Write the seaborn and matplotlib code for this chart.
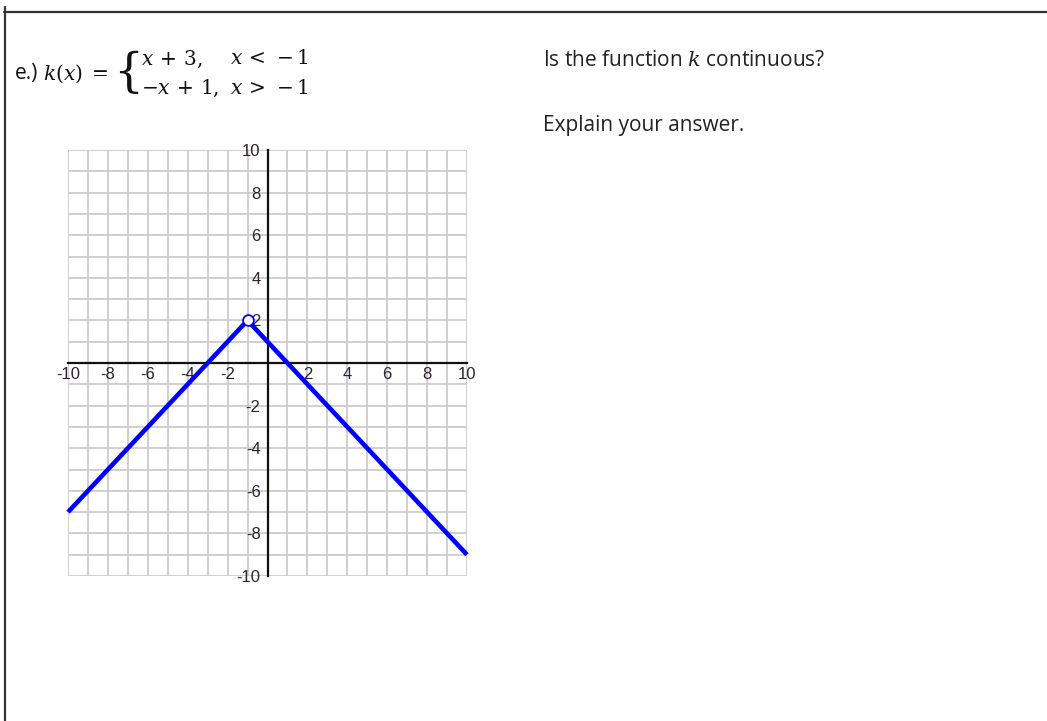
import numpy as np
import pandas as pd
import matplotlib
matplotlib.use("Agg")
import matplotlib.pyplot as plt
from matplotlib.ticker import MultipleLocator, FuncFormatter
from matplotlib.lines import Line2D
import seaborn as sns

# k(x) = x + 3 for x < -1, -x + 1 for x > -1
left_x = [-10, -1]
left_y = [-7, 2]
right_x = [-1, 10]
right_y = [2, -9]
hole_x = [-1]
hole_y = [2]

axis_min, axis_max = -10, 10
label_step = 2

W, H = 1047, 721
sns.set_theme(style="white")
plt.rcParams["font.family"] = ["Liberation Sans", "DejaVu Sans"]
plt.rcParams["mathtext.fontset"] = "dejavuserif"

fig = plt.figure(figsize=(W / 100, H / 100), dpi=100)
fig.patch.set_facecolor("white")


def fx(px):
    return px / W


def fy(py):
    return 1 - py / H


# page frame: top rule and left rule
fig.add_artist(Line2D([fx(4), fx(W)], [fy(11.5), fy(11.5)], color="#333333", lw=1.6))
fig.add_artist(Line2D([fx(4.5), fx(4.5)], [fy(7), fy(H)], color="#333333", lw=1.6))

# coordinate grid
ax = fig.add_axes([fx(68), fy(576), fx(467) - fx(68), fy(150) - fy(576)])
ax.set_facecolor("white")
ax.set_xlim(axis_min, axis_max)
ax.set_ylim(axis_min, axis_max)
ax.xaxis.set_major_locator(MultipleLocator(1))
ax.yaxis.set_major_locator(MultipleLocator(1))
ax.grid(True, color="#cccccc", lw=1.3, zorder=0)
for ln in ax.get_xgridlines() + ax.get_ygridlines():
    ln.set_clip_on(False)

for side in ("top", "right"):
    ax.spines[side].set_visible(False)
for side in ("left", "bottom"):
    ax.spines[side].set_position("zero")
    ax.spines[side].set_color("#111111")
    ax.spines[side].set_linewidth(1.6)
    ax.spines[side].set_zorder(2)


def even_label(v, pos):
    iv = int(round(v))
    if iv == 0 or iv % label_step != 0:
        return ""
    return str(iv)


fmt = FuncFormatter(even_label)
ax.xaxis.set_major_formatter(fmt)
ax.yaxis.set_major_formatter(fmt)
ax.tick_params(axis="both", direction="in", length=6, width=1.6, color="#111111",
               labelsize=12, labelcolor="#2a2233")
ax.tick_params(axis="x", pad=3)
ax.tick_params(axis="y", pad=5)

# the two pieces and the open point where they meet
left_df = pd.DataFrame({"x": left_x, "y": left_y})
right_df = pd.DataFrame({"x": right_x, "y": right_y})
sns.lineplot(data=left_df, x="x", y="y", ax=ax, color="#0000ff", lw=3.3,
             solid_capstyle="butt", zorder=3, clip_on=False)
sns.lineplot(data=right_df, x="x", y="y", ax=ax, color="#0000ff", lw=3.3,
             solid_capstyle="butt", zorder=3, clip_on=False)
sns.scatterplot(x=hole_x, y=hole_y, ax=ax, s=60, facecolor="white",
                edgecolor="#0000ff", linewidth=1.3, zorder=4, clip_on=False)
ax.set_xlabel("")
ax.set_ylabel("")

# heading with the piecewise definition
ink = "#111111"
sans = ["Open Sans", "DejaVu Sans"]
fig.text(fx(15), fy(74), "e.)", fontsize=15, family=sans,
         va="center", ha="left", color=ink)
fig.text(fx(43), fy(74), r"$k(x)\;=$", fontsize=14.5, va="center", ha="left", color=ink)
fig.text(fx(113), fy(73), "{", fontsize=34, family=["DejaVu Serif"],
         va="center", ha="left", color=ink, fontweight="light")
fig.text(fx(141), fy(59), r"$x\,+\,3,$", fontsize=14.5, va="center", ha="left", color=ink)
fig.text(fx(230), fy(59), r"$x\,<\,-1$", fontsize=14.5, va="center", ha="left", color=ink)
fig.text(fx(141), fy(88), r"$-x\,+\,1,$", fontsize=14.5, va="center", ha="left", color=ink)
fig.text(fx(230), fy(88), r"$x\,>\,-1$", fontsize=14.5, va="center", ha="left", color=ink)

# question text
fig.text(fx(543), fy(61), r"Is the function $\mathit{k}$ continuous?", fontsize=15,
         family=sans, va="center", ha="left", color="#222222")
fig.text(fx(543), fy(126), "Explain your answer.", fontsize=15,
         family=sans, va="center", ha="left", color="#222222")

fig.savefig("out.png", dpi=100, facecolor="white")
